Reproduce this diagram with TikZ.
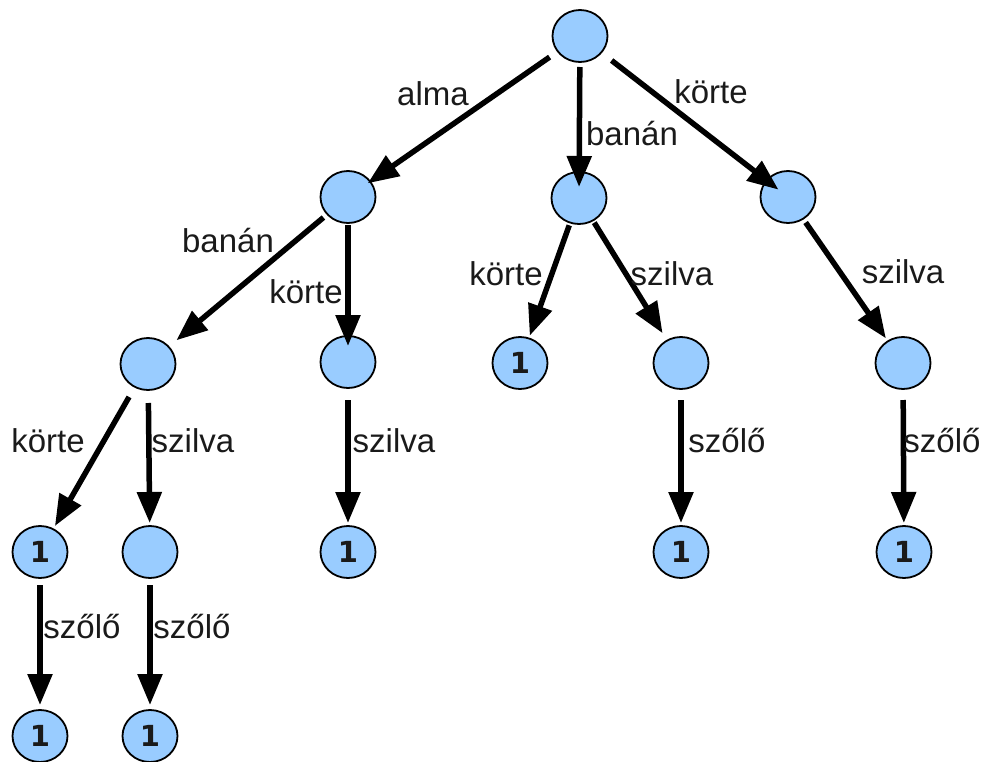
\documentclass[tikz,border=0pt]{standalone}
\usepackage{fontspec}
\setmainfont{Liberation Sans}
\newfontfamily\numfont{DejaVu Sans}
\usetikzlibrary{arrows.meta,shapes.geometric}
\definecolor{nodeblue}{HTML}{99CCFF}
\definecolor{txt}{HTML}{1A1A1A}
\tikzset{
  tnode/.style={ellipse,draw=black,line width=1.8pt,fill=nodeblue,minimum width=55pt,minimum height=52pt,inner sep=0pt,
    font=\numfont\bfseries\fontsize{29}{30}\selectfont,text=txt},
  arr/.style={line width=5.5pt,-{Triangle[length=31pt,width=24pt]}},
  lbl/.style={anchor=base,inner sep=0pt,font=\fontsize{33}{36}\selectfont,text=txt},
}
\begin{document}
\begin{tikzpicture}[x=1pt,y=-1pt]
\useasboundingbox (0,0) rectangle (986,761);
% nodes
\node[tnode] (r) at (580,36) {};
\node[tnode] (a) at (348,197) {};
\node[tnode] (b) at (579,198) {};
\node[tnode] (c) at (788,197) {};
\node[tnode] (a1) at (148,364) {};
\node[tnode] (a2) at (348,362) {};
\node[tnode] (b1) at (520,363) {1};
\node[tnode] (b2) at (681,363) {};
\node[tnode] (c1) at (903,363) {};
\node[tnode] (a1a) at (40,552) {1};
\node[tnode] (a1b) at (150,552) {};
\node[tnode] (a2a) at (348,552) {1};
\node[tnode] (b2a) at (681,552) {1};
\node[tnode] (c1a) at (904,552) {1};
\node[tnode] (a1aa) at (40,736) {1};
\node[tnode] (a1ba) at (150,736) {1};
% edges
\draw[arr,shorten <=37pt,shorten >=24pt] (r.center) -- (a.center);
\draw[arr,shorten <=31pt,shorten >=11pt] (r.center) -- (b.center);
\draw[arr,shorten <=40pt,shorten >=12pt] (r.center) -- (c.center);
\draw[arr,shorten <=32pt,shorten >=37pt] (a.center) -- (a1.center);
\draw[arr,shorten <=28pt,shorten >=16pt] (a.center) -- (a2.center);
\draw[arr,shorten <=29pt,shorten >=29pt] (b.center) -- (b1.center);
\draw[arr,shorten <=29pt,shorten >=35pt] (b.center) -- (b2.center);
\draw[arr,shorten <=31pt,shorten >=30pt] (c.center) -- (c1.center);
\draw[arr,shorten <=38pt,shorten >=30pt] (a1.center) -- (a1a.center);
\draw[arr,shorten <=39pt,shorten >=29pt] (a1.center) -- (a1b.center);
\draw[arr,shorten <=38pt,shorten >=29pt] (a2.center) -- (a2a.center);
\draw[arr,shorten <=37pt,shorten >=29pt] (b2.center) -- (b2a.center);
\draw[arr,shorten <=37pt,shorten >=29pt] (c1.center) -- (c1a.center);
\draw[arr,shorten <=33pt,shorten >=31pt] (a1a.center) -- (a1aa.center);
\draw[arr,shorten <=33pt,shorten >=31pt] (a1b.center) -- (a1ba.center);
% labels
\node[lbl] (l1) at (433,105) {alma};
\node[lbl] (l2) at (632,145) {banán};
\node[lbl] (l3) at (711,103) {körte};
\node[lbl] (l4) at (228,252) {banán};
\node[lbl] (l5) at (306,303) {körte};
\node[lbl] (l6) at (506,285) {körte};
\node[lbl] (l7) at (672,285) {szilva};
\node[lbl] (l8) at (903,283) {szilva};
\node[lbl] (l9) at (48,452) {körte};
\node[lbl] (l10) at (193,452) {szilva};
\node[lbl] (l11) at (394,452) {szilva};
\node[lbl] (l12) at (727,452) {szőlő};
\node[lbl] (l13) at (942,452) {szőlő};
\node[lbl] (l14) at (82,638) {szőlő};
\node[lbl] (l15) at (192,638) {szőlő};
\end{tikzpicture}
\end{document}
